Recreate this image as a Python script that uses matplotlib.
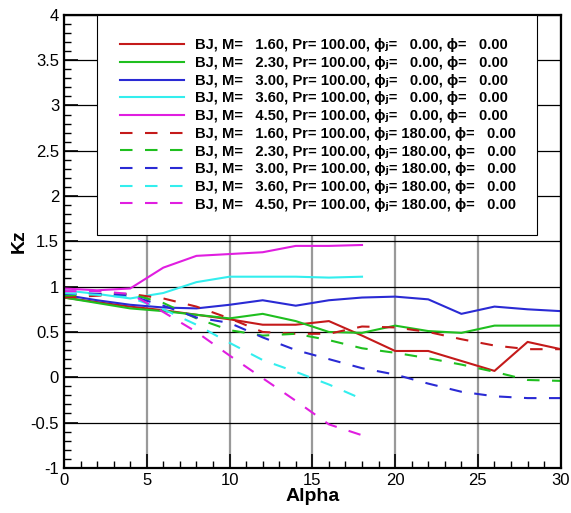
import numpy as np
import matplotlib
matplotlib.use("Agg")
import matplotlib.pyplot as plt

plt.rcParams['font.family'] = ['Liberation Sans', 'DejaVu Sans']
plt.rcParams['lines.scale_dashes'] = False

# angle of attack
alpha_long = [0, 2, 4, 6, 8, 10, 12, 14, 16, 18, 20, 22, 24, 26, 28, 30]
alpha_short = [0, 2, 4, 6, 8, 10, 12, 14, 16, 18]

mach = [1.60, 2.30, 3.00, 3.60, 4.50]
colors = ['#c41a1a', '#1fbf1f', '#2a2ad4', '#33eeee', '#e01ee0']

# phi_j = 0 (solid)
kz_m160_0 = [0.88, 0.83, 0.78, 0.74, 0.69, 0.64, 0.58, 0.58, 0.62, 0.46, 0.29, 0.29, 0.18, 0.07, 0.39, 0.31]
kz_m230_0 = [0.88, 0.82, 0.76, 0.73, 0.69, 0.65, 0.70, 0.62, 0.50, 0.49, 0.57, 0.51, 0.49, 0.57, 0.57, 0.57]
kz_m300_0 = [0.91, 0.85, 0.80, 0.77, 0.76, 0.80, 0.85, 0.79, 0.85, 0.88, 0.89, 0.86, 0.70, 0.78, 0.75, 0.73]
kz_m360_0 = [0.96, 0.92, 0.87, 0.93, 1.05, 1.11, 1.11, 1.11, 1.10, 1.11]
kz_m450_0 = [0.98, 0.96, 0.98, 1.21, 1.34, 1.36, 1.38, 1.45, 1.45, 1.46]

# phi_j = 180 (dashed)
kz_m160_180 = [0.88, 0.90, 0.92, 0.87, 0.78, 0.65, 0.50, 0.48, 0.48, 0.56, 0.55, 0.50, 0.42, 0.35, 0.31, 0.31]
kz_m230_180 = [0.90, 0.92, 0.92, 0.82, 0.65, 0.52, 0.46, 0.48, 0.41, 0.32, 0.27, 0.21, 0.14, 0.06, -0.03, -0.04]
kz_m300_180 = [0.92, 0.92, 0.90, 0.79, 0.66, 0.60, 0.44, 0.30, 0.20, 0.10, 0.03, -0.07, -0.16, -0.21, -0.23, -0.23]
kz_m360_180 = [0.93, 0.91, 0.88, 0.75, 0.58, 0.38, 0.19, 0.06, -0.08, -0.24]
kz_m450_180 = [0.95, 0.95, 0.92, 0.72, 0.50, 0.24, -0.01, -0.26, -0.52, -0.64]

solid = [kz_m160_0, kz_m230_0, kz_m300_0, kz_m360_0, kz_m450_0]
dashed = [kz_m160_180, kz_m230_180, kz_m300_180, kz_m360_180, kz_m450_180]

fig = plt.figure(figsize=(5.71, 5.13), dpi=100)
ax = fig.add_axes([0.112, 0.088, 0.870, 0.883])

for m, c, ys in zip(mach, colors, solid):
    xs = alpha_long if len(ys) == len(alpha_long) else alpha_short
    lab = 'BJ, M=   %.2f, Pr= 100.00, \u03d5\u2c7c=   0.00, \u03d5=   0.00' % m
    ax.plot(xs, ys, color=c, lw=1.5, label=lab)

for m, c, ys in zip(mach, colors, dashed):
    xs = alpha_long if len(ys) == len(alpha_long) else alpha_short
    lab = 'BJ, M=   %.2f, Pr= 100.00, \u03d5\u2c7c= 180.00, \u03d5=   0.00' % m
    ax.plot(xs, ys, color=c, lw=1.5, ls=(0, (9, 9)), label=lab)

ax.set_xlim(0, 30)
ax.set_ylim(-1, 4)
ax.set_xticks(np.arange(0, 31, 5))
ax.set_yticks(np.arange(-1, 4.01, 0.5))
ax.set_yticklabels(['-1', '-0.5', '0', '0.5', '1', '1.5', '2', '2.5', '3', '3.5', '4'])
ax.set_xticks(np.arange(0, 31, 1), minor=True)
ax.set_yticks(np.arange(-1, 4.01, 0.1), minor=True)
ax.tick_params(which='major', direction='in', length=10, width=1.2, labelsize=12)
ax.tick_params(which='minor', direction='in', length=5, width=1)
ax.tick_params(axis='x', pad=4)

ax.yaxis.grid(True, which='major', color='black', lw=0.9)
ax.xaxis.grid(True, which='major', color='#999999', lw=1.6)
ax.set_axisbelow(True)

for s in ax.spines.values():
    s.set_linewidth(1.6)
    s.set_color('black')

ax.set_xlabel('Alpha', fontsize=14, fontweight='bold', labelpad=0)
ax.set_ylabel('Kz', fontsize=14, fontweight='bold', labelpad=2)

leg = ax.legend(loc='upper left', bbox_to_anchor=(0.066, 1.0, 0.886, 0.0), mode='expand',
                frameon=True, fancybox=False, framealpha=1, edgecolor='black',
                prop={'weight': 'bold', 'size': 10.6}, handlelength=4.3,
                handletextpad=0.75, labelspacing=0.25, borderpad=1.6, borderaxespad=0)
leg.get_frame().set_linewidth(0.8)

fig.savefig('out.png', dpi=100)
